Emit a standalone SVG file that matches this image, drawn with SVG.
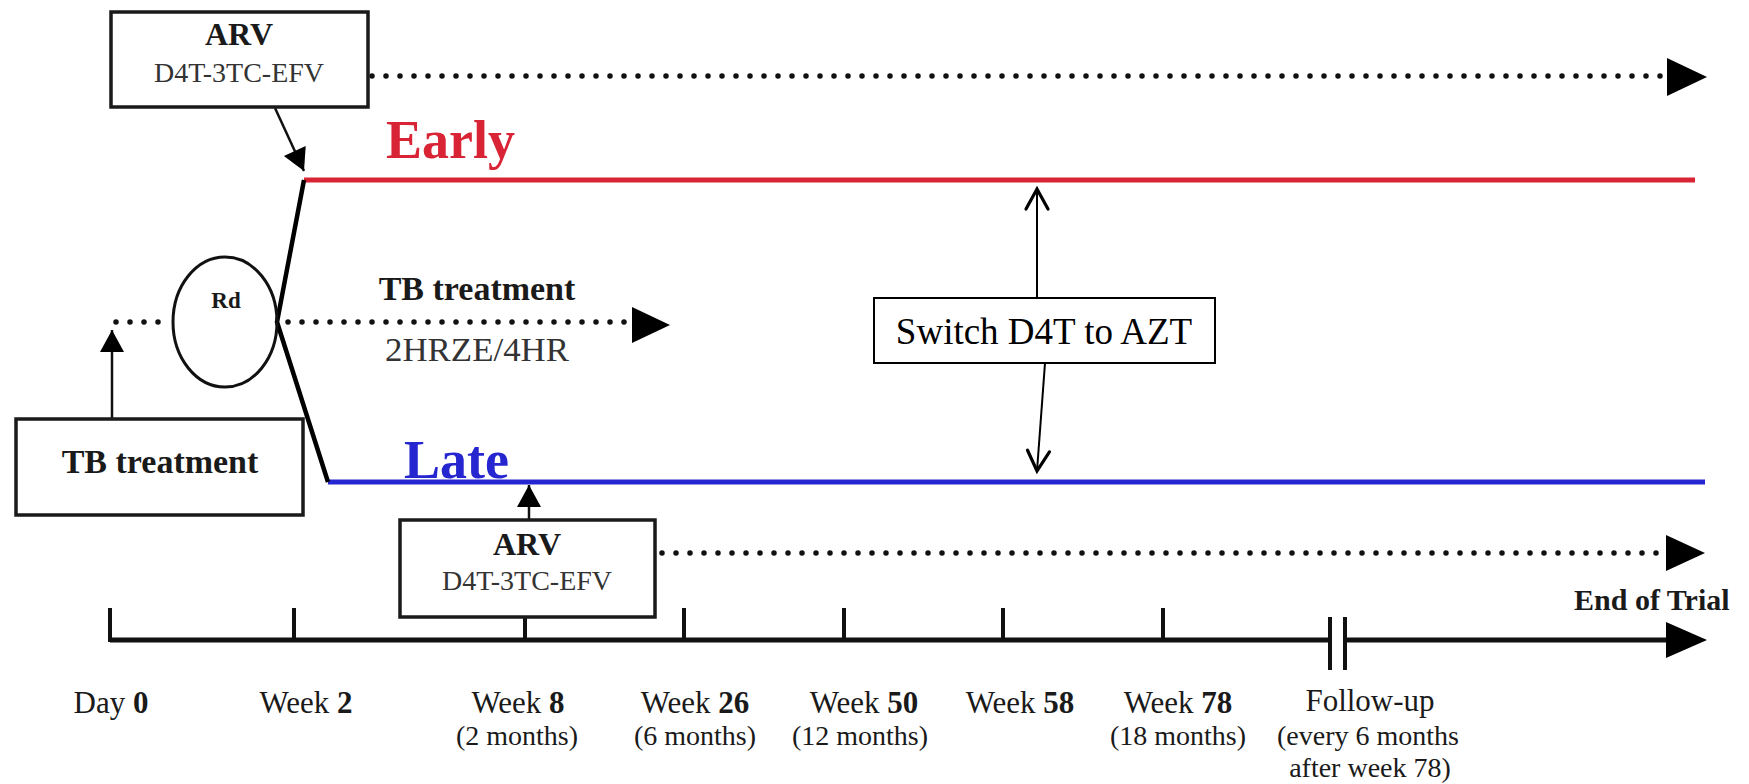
<svg xmlns="http://www.w3.org/2000/svg" width="1749" height="784" viewBox="0 0 1749 784">
<defs>
<style>
text{font-family:"Liberation Serif","Times New Roman",serif;fill:#1a1a1a}
.box{fill:#fff;stroke:#1a1a1a;stroke-width:3.5}
.b{font-weight:bold}
.dot{fill:none;stroke:#111;stroke-width:5.5;stroke-dasharray:0 14;stroke-linecap:round}
.ln{fill:none;stroke:#111;stroke-width:2.5}
.mid{text-anchor:middle}
</style>
<marker id="sm" markerUnits="userSpaceOnUse" markerWidth="22" markerHeight="24" refX="22" refY="12" orient="auto" overflow="visible">
<path d="M0,0 L22,12 L0,24 z" fill="#000"/>
</marker>
<marker id="open" markerUnits="userSpaceOnUse" markerWidth="22" markerHeight="24" refX="21" refY="11" orient="auto" overflow="visible">
<path d="M1,0 L21,11 L1,22" fill="none" stroke="#000" stroke-width="3.2" stroke-linecap="round" stroke-linejoin="miter"/>
</marker>
</defs>
<rect width="1749" height="784" fill="#fff"/>

<g id="connectors">
<path class="dot" d="M372,76 L1672,76"/>
<path d="M1667,58 L1707,77 L1667,96 z" fill="#000"/>
<path class="dot" d="M116,322 L172,322"/>
<path class="dot" d="M288,322 L636,322"/>
<path d="M632,307 L670,325 L632,343 z" fill="#000"/>
<path class="dot" d="M662,553 L1670,553"/>
<path d="M1666,535 L1705,553 L1666,571 z" fill="#000"/>
<path d="M304,180 L1695,180" fill="none" stroke="#d82435" stroke-width="5"/>
<path d="M328,482 L1705,482" fill="none" stroke="#2626d0" stroke-width="5"/>
<path d="M304,180 L277,322 L328,482" fill="none" stroke="#000" stroke-width="4.5" stroke-linejoin="miter"/>
<path class="ln" d="M275,108 L304,171" marker-end="url(#sm)"/>
<path class="ln" d="M112,419 L112,330" marker-end="url(#sm)"/>
<path class="ln" d="M529,520 L529,485" marker-end="url(#sm)"/>
<path d="M1037,298 L1037,189" fill="none" stroke="#000" stroke-width="2" marker-end="url(#open)"/>
<path d="M1045,363 L1037,471" fill="none" stroke="#000" stroke-width="2" marker-end="url(#open)"/>
<path d="M110,640 L1329,640 M1345,640 L1670,640" fill="none" stroke="#111" stroke-width="5"/>
<path d="M1666,622 L1707,640 L1666,658 z" fill="#000"/>
<path d="M110,608 L110,642 M294,608 L294,642 M525,608 L525,642 M684,608 L684,642 M844,608 L844,642 M1003,608 L1003,642 M1163,608 L1163,642" fill="none" stroke="#111" stroke-width="4"/>
<path d="M1330,617 L1330,670 M1345,617 L1345,670" fill="none" stroke="#111" stroke-width="4"/>
</g>

<g id="arv-early">
<rect class="box" x="111" y="12" width="257" height="95"/>
<text class="b mid" x="239" y="45" font-size="32">ARV</text>
<text class="mid" x="239" y="82" font-size="28" style="fill:#333">D4T-3TC-EFV</text>
</g>

<g id="label-early">
<text class="b" x="386" y="158" font-size="54" style="fill:#d82435">Early</text>
</g>

<g id="rd">
<ellipse cx="225" cy="322" rx="52" ry="65" fill="none" stroke="#111" stroke-width="3"/>
<text class="b mid" x="226" y="308" font-size="23">Rd</text>
</g>

<g id="tb-label">
<text class="b mid" x="477" y="300" font-size="34">TB treatment</text>
<text class="mid" x="477" y="361" font-size="33" textLength="184" lengthAdjust="spacingAndGlyphs" style="fill:#333">2HRZE/4HR</text>
</g>

<g id="tb-box">
<rect class="box" x="16" y="419" width="287" height="96"/>
<text class="b mid" x="160" y="473" font-size="34">TB treatment</text>
</g>

<g id="label-late">
<text class="b" x="404" y="478" font-size="54" style="fill:#2626d0">Late</text>
</g>

<g id="arv-late">
<rect class="box" x="400" y="520" width="255" height="97"/>
<text class="b mid" x="527" y="555" font-size="32">ARV</text>
<text class="mid" x="527" y="590" font-size="28" style="fill:#333">D4T-3TC-EFV</text>
</g>

<g id="switch">
<rect x="874" y="298" width="341" height="65" fill="#fff" stroke="#000" stroke-width="2"/>
<text class="mid" x="1044" y="344" font-size="37" style="fill:#000">Switch D4T to AZT</text>
</g>

<g id="end-label">
<text class="b" x="1574" y="610" font-size="30">End of Trial</text>
</g>

<g id="timeline-labels" font-size="31">
<text class="mid" x="111" y="713">Day <tspan class="b">0</tspan></text>
<text class="mid" x="306" y="713">Week <tspan class="b">2</tspan></text>
<text class="mid" x="518" y="713">Week <tspan class="b">8</tspan></text>
<text class="mid" x="517" y="745" font-size="28">(2 months)</text>
<text class="mid" x="695" y="713">Week <tspan class="b">26</tspan></text>
<text class="mid" x="695" y="745" font-size="28">(6 months)</text>
<text class="mid" x="864" y="713">Week <tspan class="b">50</tspan></text>
<text class="mid" x="860" y="745" font-size="28">(12 months)</text>
<text class="mid" x="1020" y="713">Week <tspan class="b">58</tspan></text>
<text class="mid" x="1178" y="713">Week <tspan class="b">78</tspan></text>
<text class="mid" x="1178" y="745" font-size="28">(18 months)</text>
<text class="mid" x="1370" y="711">Follow-up</text>
<text class="mid" x="1368" y="745" font-size="28">(every 6 months</text>
<text class="mid" x="1370" y="777" font-size="28">after week 78)</text>
</g>
</svg>
